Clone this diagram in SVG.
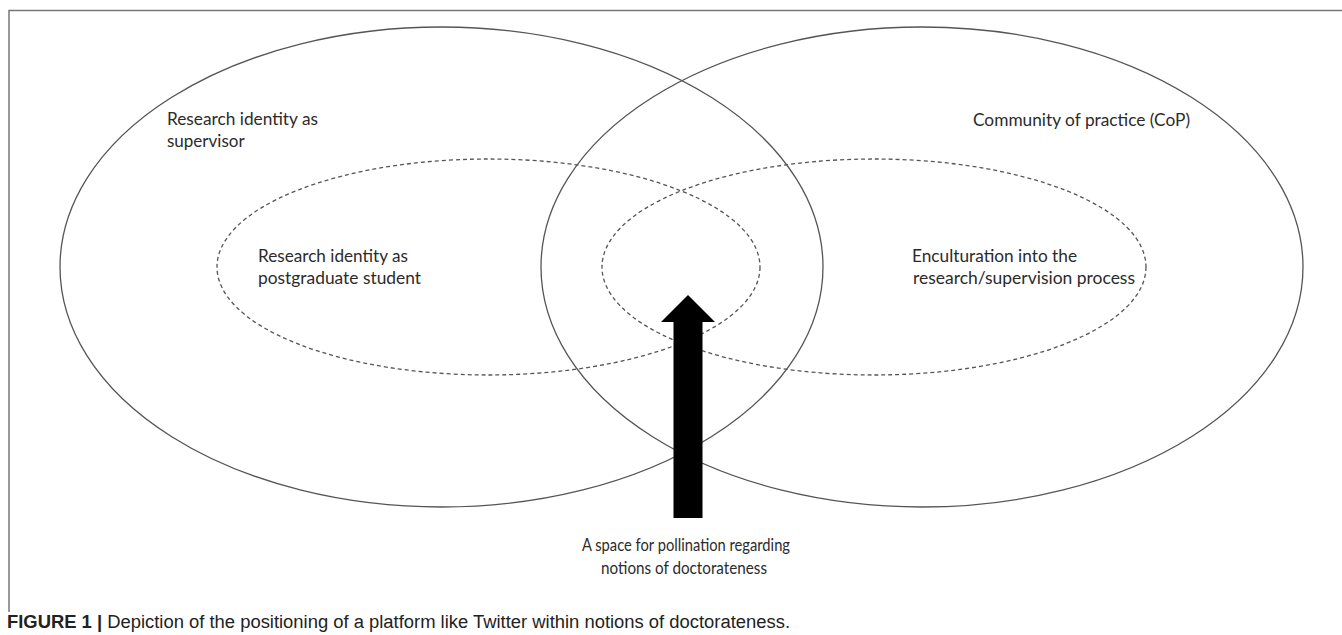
<svg xmlns="http://www.w3.org/2000/svg" width="1342" height="635" viewBox="0 0 1342 635">
<style>
.big{fill:none;stroke:#555;stroke-width:1.3}
.inner{fill:none;stroke:#555;stroke-width:1.3;stroke-dasharray:4 3}
.lbl{font-family:Lato,"Open Sans",sans-serif;font-size:17px;fill:#2b2b2b}
.cap{font-family:"Liberation Sans",Arial,sans-serif;font-size:18px;fill:#222}
.frame{fill:none;stroke:#777;stroke-width:1.5}
</style>
<rect width="1342" height="635" fill="#fff"/>
<path class="frame" d="M9 612 V10.5 H1342"/>
<g id="supervisor">
<ellipse class="big" cx="441.5" cy="267" rx="381.5" ry="240"/>
<text class="lbl" x="167" y="125" textLength="151" lengthAdjust="spacingAndGlyphs">Research identity as</text>
<text class="lbl" x="167" y="147">supervisor</text>
</g>
<g id="cop">
<ellipse class="big" cx="922" cy="267" rx="381" ry="240"/>
<text class="lbl" x="973" y="125.5" textLength="217" lengthAdjust="spacingAndGlyphs">Community of practice (CoP)</text>
</g>
<g id="student">
<ellipse class="inner" cx="488.5" cy="267" rx="271.5" ry="108"/>
<text class="lbl" x="258" y="262" textLength="150" lengthAdjust="spacingAndGlyphs">Research identity as</text>
<text class="lbl" x="258" y="284" textLength="163" lengthAdjust="spacingAndGlyphs">postgraduate student</text>
</g>
<g id="enculturation">
<ellipse class="inner" cx="874" cy="267" rx="272" ry="108"/>
<text class="lbl" x="912" y="262" textLength="165" lengthAdjust="spacingAndGlyphs">Enculturation into the</text>
<text class="lbl" x="913" y="284" textLength="222" lengthAdjust="spacingAndGlyphs">research/supervision process</text>
</g>
<g id="connectors">
<polygon id="arrow" points="688,295 715,322 702.5,322 702.5,518 673.5,518 673.5,322 661,322" fill="#000"/>
</g>
<g id="pollination">
<text class="lbl" x="686" y="551" text-anchor="middle" textLength="208" lengthAdjust="spacingAndGlyphs">A space for pollination regarding</text>
<text class="lbl" x="684" y="574" text-anchor="middle" textLength="166" lengthAdjust="spacingAndGlyphs">notions of doctorateness</text>
</g>
<text class="cap" x="7" y="628" textLength="783" lengthAdjust="spacingAndGlyphs"><tspan font-weight="bold">FIGURE 1 |</tspan> Depiction of the positioning of a platform like Twitter within notions of doctorateness.</text>
</svg>
